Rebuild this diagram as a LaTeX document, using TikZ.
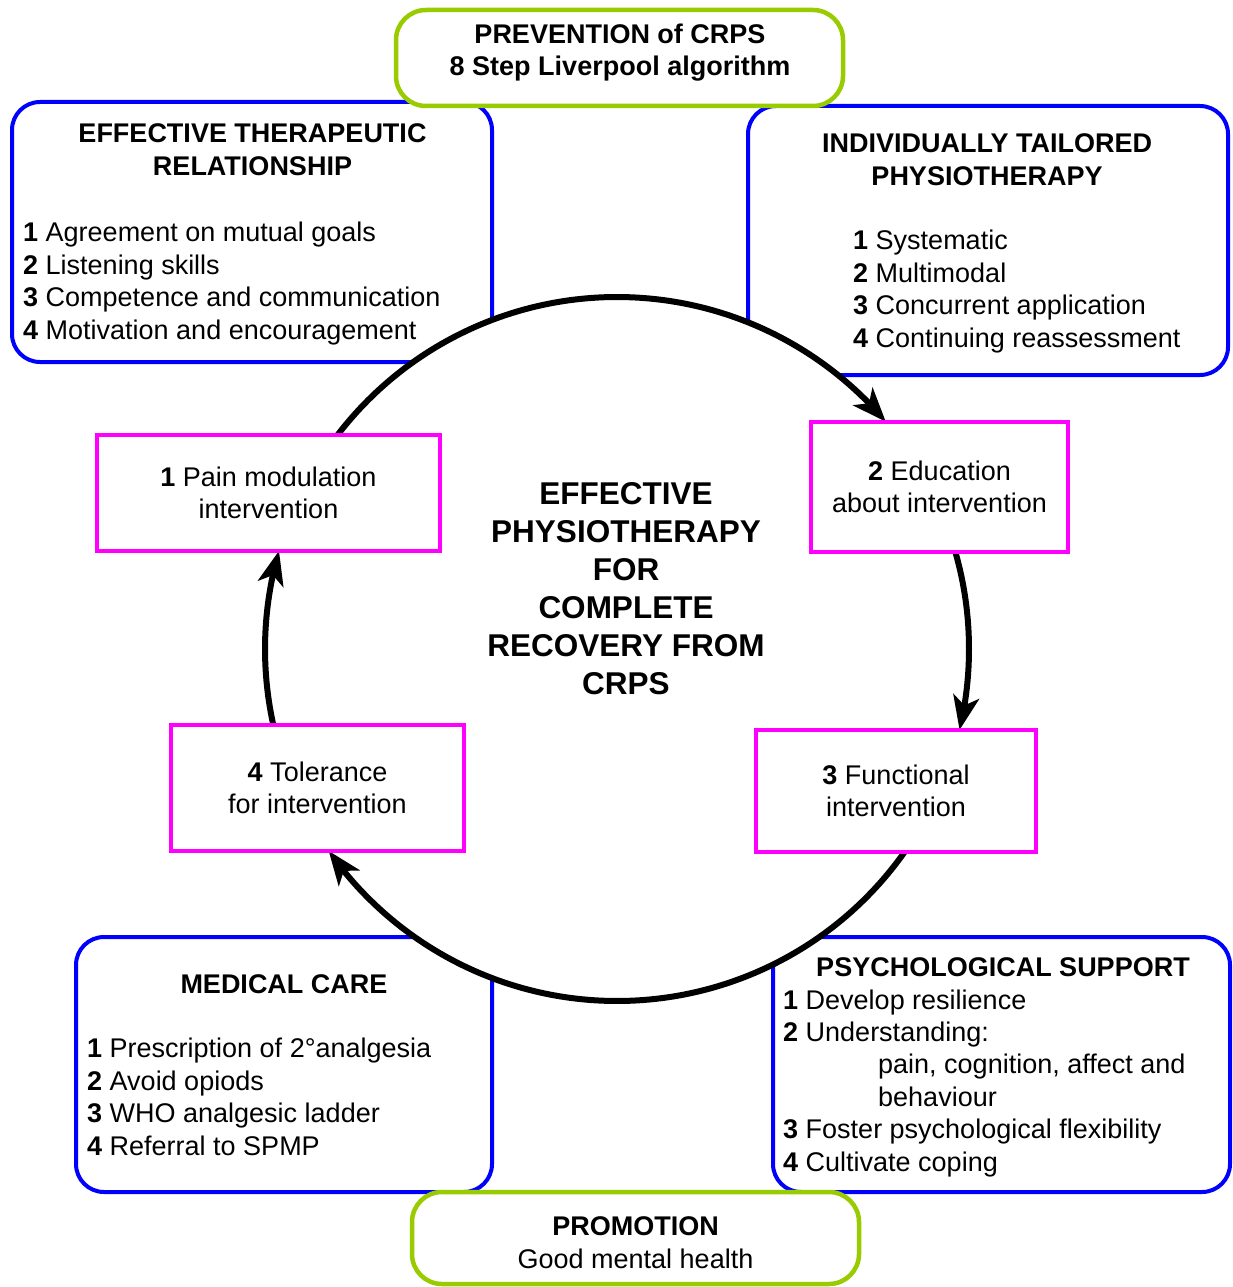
\documentclass[tikz,border=0pt]{standalone}
\usepackage{fontspec}
\setmainfont{Liberation Sans}
\usetikzlibrary{arrows.meta,bending}
\definecolor{bblue}{RGB}{0,0,255}
\definecolor{lgreen}{RGB}{153,204,0}
\definecolor{mag}{RGB}{255,0,255}
\newcommand\fsnorm{\fontsize{27}{32.4}\selectfont}
\newcommand\fsbig{\fontsize{31.5}{38}\selectfont}
\begin{document}
\begin{tikzpicture}[x=1pt,y=-1pt,
  bluebox/.style={draw=bblue,line width=4pt,fill=white,rounded corners=28pt,inner sep=0pt},
  greenbox/.style={draw=lgreen,line width=4.5pt,fill=white,rounded corners=30pt,inner sep=0pt},
  magbox/.style={draw=mag,line width=4pt,fill=white,align=center,inner sep=0pt,font=\fsnorm},
  head/.style={anchor=base,align=center,font=\fsnorm\bfseries,inner sep=0pt},
  lst/.style={anchor=base west,align=left,font=\fsnorm,inner sep=0pt},
  flow/.style={draw=black,line width=6pt,-{Stealth[length=34pt,width=26pt,inset=9pt]}}
]
\useasboundingbox (0,0) rectangle (1232,1287);
\fill[white] (0,0) rectangle (1232,1287);

% blue boxes
\node[bluebox,minimum width=480pt,minimum height=260pt] (etr) at (252,232) {};
\node[bluebox,minimum width=480pt,minimum height=269pt] (itp) at (988,240.5) {};
\node[bluebox,minimum width=416pt,minimum height=255pt] (mc) at (284,1064.5) {};
\node[bluebox,minimum width=457pt,minimum height=255pt] (ps) at (1001.5,1064.5) {};

% green boxes
\node[greenbox,minimum width=447pt,minimum height=96pt] (prev) at (619.5,58) {};
\node[greenbox,minimum width=447pt,minimum height=92pt] (prom) at (635.5,1238) {};

% texts of outer boxes (base = baseline of last line)
\node[head] (prevtxt) at (620,76) {PREVENTION of CRPS\\8 Step Liverpool algorithm};
\node[head] (etrhead) at (252.5,175) {EFFECTIVE THERAPEUTIC\\RELATIONSHIP};
\node[lst] (etrlist) at (23,339) {\textbf{1} Agreement on mutual goals\\\textbf{2} Listening skills\\\textbf{3} Competence and communication\\\textbf{4} Motivation and encouragement};
\node[head] (itphead) at (987,185) {INDIVIDUALLY TAILORED\\PHYSIOTHERAPY};
\node[lst] (itplist) at (853,347) {\textbf{1} Systematic\\\textbf{2} Multimodal\\\textbf{3} Concurrent application\\\textbf{4} Continuing reassessment};
\node[head] (mchead) at (284,993) {MEDICAL CARE};
\node[lst] (mclist) at (87,1155) {\textbf{1} Prescription of 2°analgesia\\\textbf{2} Avoid opiods\\\textbf{3} WHO analgesic ladder\\\textbf{4} Referral to SPMP};
\node[head] (pshead) at (1003,976) {PSYCHOLOGICAL SUPPORT};
\node[lst] (pslist) at (783,1171) {\textbf{1} Develop resilience\\\textbf{2} Understanding:\\\hspace*{95pt}pain, cognition, affect and\\\hspace*{95pt}behaviour\\\textbf{3} Foster psychological flexibility\\\textbf{4} Cultivate coping};
\node[anchor=base,align=center,font=\fsnorm,inner sep=0pt] (promtxt) at (635.5,1268) {\textbf{PROMOTION}\\Good mental health};

% central circle
\coordinate (C) at (617,649);
\fill[white] (C) circle[radius=352];
\node[align=center,font=\fsbig\bfseries,inner sep=0pt] (centre) at (626,588.5) {EFFECTIVE\\PHYSIOTHERAPY\\FOR\\COMPLETE\\RECOVERY FROM\\CRPS};

% cycle arrows
\path (C) ++(-142.6:352) coordinate (a1s);
\path (C) ++(-16.0:352) coordinate (a2s);
\path (C) ++(35.2:352) coordinate (a3s);
\path (C) ++(167.5:352) coordinate (a4s);
\draw[flow] (a1s) arc[start angle=-142.6,end angle=-40.2,radius=352];
\draw[flow] (a2s) arc[start angle=-16.0,end angle=13.3,radius=352];
\draw[flow] (a3s) arc[start angle=35.2,end angle=145.0,radius=352];
\draw[flow] (a4s) arc[start angle=167.5,end angle=196.2,radius=352];

% magenta step boxes
\node[magbox,minimum width=343pt,minimum height=116pt] (s1) at (268.5,493) {\textbf{1} Pain modulation\\intervention};
\node[magbox,minimum width=257pt,minimum height=130pt] (s2) at (939.5,487) {\textbf{2} Education\\about intervention};
\node[magbox,minimum width=280pt,minimum height=122pt] (s3) at (896,791) {\textbf{3} Functional\\intervention};
\node[magbox,minimum width=293pt,minimum height=126pt] (s4) at (317.5,788) {\textbf{4} Tolerance\\for intervention};
\end{tikzpicture}
\end{document}
